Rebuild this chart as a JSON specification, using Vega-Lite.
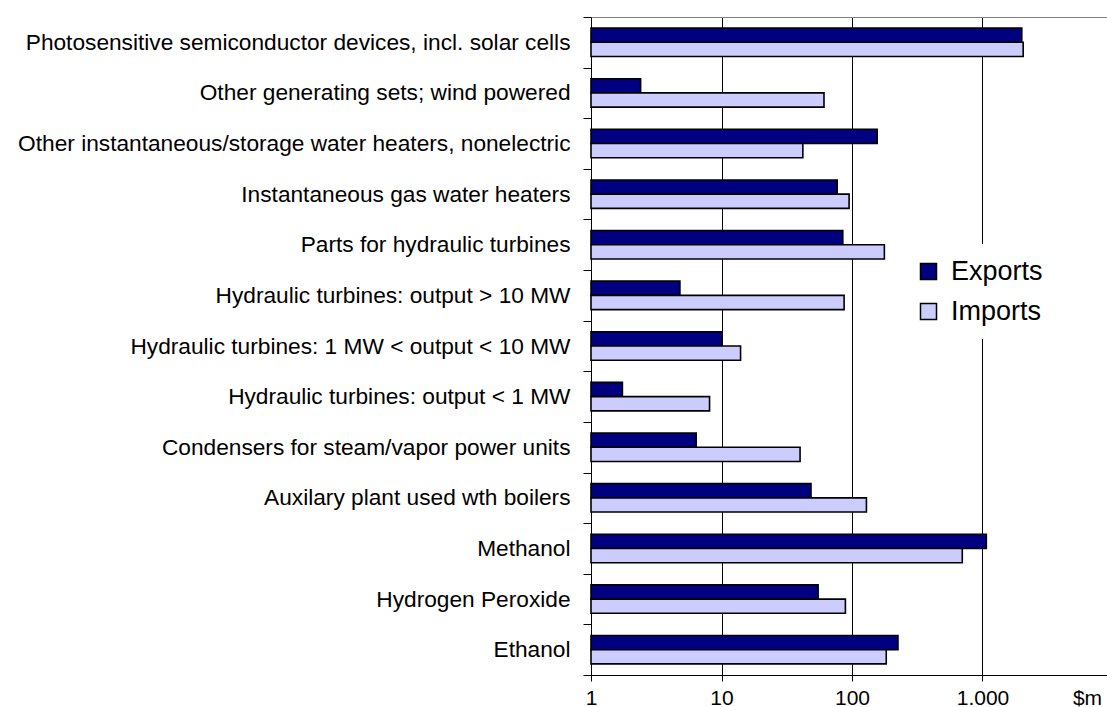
{
  "$schema": "https://vega.github.io/schema/vega-lite/v6.json",
  "autosize": "none",
  "padding": {"left": 591, "top": 17, "right": 0, "bottom": 32},
  "width": 516,
  "height": 658,
  "background": "white",
  "config": {
    "font": "Liberation Sans",
    "view": {"stroke": null}
  },
  "data": {
    "values": [
      {"item": "Photosensitive semiconductor devices, incl. solar cells", "flow": "Exports", "value": 2000},
      {"item": "Photosensitive semiconductor devices, incl. solar cells", "flow": "Imports", "value": 2050},
      {"item": "Other generating sets; wind powered ", "flow": "Exports", "value": 2.4},
      {"item": "Other generating sets; wind powered ", "flow": "Imports", "value": 61},
      {"item": "Other instantaneous/storage water heaters, nonelectric", "flow": "Exports", "value": 156},
      {"item": "Other instantaneous/storage water heaters, nonelectric", "flow": "Imports", "value": 42},
      {"item": "Instantaneous gas water heaters ", "flow": "Exports", "value": 77},
      {"item": "Instantaneous gas water heaters ", "flow": "Imports", "value": 95},
      {"item": "Parts for hydraulic turbines ", "flow": "Exports", "value": 85},
      {"item": "Parts for hydraulic turbines ", "flow": "Imports", "value": 177},
      {"item": "Hydraulic turbines: output > 10 MW", "flow": "Exports", "value": 4.8},
      {"item": "Hydraulic turbines: output > 10 MW", "flow": "Imports", "value": 87},
      {"item": "Hydraulic turbines: 1 MW < output < 10 MW", "flow": "Exports", "value": 10.1},
      {"item": "Hydraulic turbines: 1 MW < output < 10 MW", "flow": "Imports", "value": 14},
      {"item": "Hydraulic turbines: output < 1 MW", "flow": "Exports", "value": 1.74},
      {"item": "Hydraulic turbines: output < 1 MW", "flow": "Imports", "value": 8.1},
      {"item": "Condensers for steam/vapor power units ", "flow": "Exports", "value": 6.4},
      {"item": "Condensers for steam/vapor power units ", "flow": "Imports", "value": 40},
      {"item": "Auxilary plant used wth boilers ", "flow": "Exports", "value": 48.5},
      {"item": "Auxilary plant used wth boilers ", "flow": "Imports", "value": 129},
      {"item": "Methanol", "flow": "Exports", "value": 1070},
      {"item": "Methanol", "flow": "Imports", "value": 700},
      {"item": "Hydrogen Peroxide", "flow": "Exports", "value": 55},
      {"item": "Hydrogen Peroxide", "flow": "Imports", "value": 89},
      {"item": "Ethanol", "flow": "Exports", "value": 225},
      {"item": "Ethanol", "flow": "Imports", "value": 183}
    ]
  },
  "layer": [
    {
      "mark": {"type": "bar", "stroke": "black", "strokeWidth": 1.6},
      "encoding": {
        "y": {
          "field": "item", "type": "nominal", "sort": null,
          "scale": {"paddingInner": 0, "paddingOuter": 0},
          "axis": {
            "title": null, "tickBand": "extent", "tickSize": 8, "tickColor": "black",
            "domainColor": "black", "labelFontSize": 22.7, "labelColor": "black",
            "labelPadding": 13, "labelLimit": 700, "grid": false
          }
        },
        "yOffset": {
          "field": "flow", "type": "nominal",
          "scale": {"paddingInner": 0, "paddingOuter": 0.78}
        },
        "x": {
          "field": "value", "type": "quantitative", "stack": null,
          "scale": {"type": "log", "domain": [1, 10000], "range": [0, 522], "nice": false},
          "axis": {
            "title": null, "values": [1, 10, 100, 1000, 10000],
            "labelExpr": "datum.value == 10000 ? '$m' : (datum.value == 1000 ? '1.000' : datum.label)",
            "labelOffset": {"condition": {"test": "datum.value == 10000", "value": -26}, "value": 0},
            "labelFontSize": 21, "labelColor": "black", "labelPadding": 6,
            "tickSize": 6, "tickColor": "black", "domainColor": "black",
            "grid": true, "gridColor": "black", "gridWidth": 1,
            "labelFlush": false, "labelOverlap": false
          }
        },
        "fill": {
          "field": "flow", "type": "nominal",
          "scale": {"domain": ["Exports", "Imports"], "range": ["#000080", "#CCCCFF"]},
          "legend": {
            "title": null, "orient": "none", "legendX": 310, "legendY": 227,
            "padding": 14, "fillColor": "white", "strokeColor": null,
            "symbolType": "square", "symbolSize": 256,
            "symbolStrokeColor": "black", "symbolStrokeWidth": 1.5,
            "labelFontSize": 27, "labelColor": "black", "labelOffset": 9,
            "rowPadding": 12, "labelLimit": 300
          }
        }
      }
    },
    {
      "mark": {"type": "bar", "opacity": 0},
      "encoding": {
        "y": {"field": "item", "type": "nominal", "sort": null},
        "yOffset": {"field": "flow", "type": "nominal"},
        "x": {
          "field": "value", "type": "quantitative", "stack": null,
          "axis": {"orient": "top", "title": null, "labels": false, "ticks": false, "grid": false, "domainColor": "#808080"}
        }
      }
    }
  ],
  "resolve": {"axis": {"x": "independent"}}
}
